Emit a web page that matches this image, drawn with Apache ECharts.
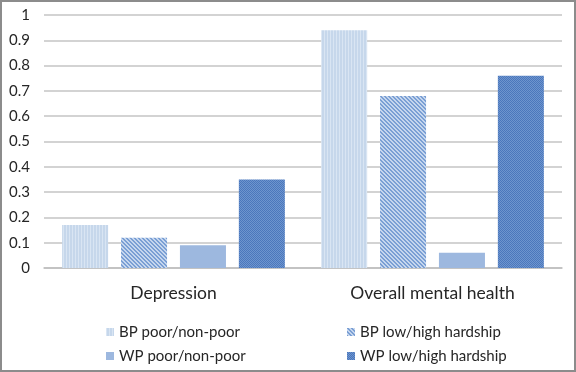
<!DOCTYPE html>
<html>
<head>
<meta charset="utf-8">
<script src="https://cdn.jsdelivr.net/npm/echarts@6/dist/echarts.min.js"></script>
<style>
html,body{margin:0;padding:0;background:#fff;}
#chart{width:576px;height:372px;}
</style>
</head>
<body>
<div id="chart"></div>
<script>
var categories = ['Depression', 'Overall mental health'];
var seriesNames = ['BP poor/non-poor', 'BP low/high hardship', 'WP poor/non-poor', 'WP low/high hardship'];
var bpPoor = [0.17, 0.94];
var bpHardship = [0.12, 0.68];
var wpPoor = [0.09, 0.06];
var wpHardship = [0.35, 0.76];
var yTicks = [0, 0.1, 0.2, 0.3, 0.4, 0.5, 0.6, 0.7, 0.8, 0.9, 1];

function makePattern(w, h, painter) {
  var c = document.createElement('canvas');
  c.width = w; c.height = h;
  var ctx = c.getContext('2d');
  painter(ctx);
  return { image: c, repeat: 'repeat' };
}
var pat1 = makePattern(6, 6, function (ctx) {
  ctx.fillStyle = '#c6d7eb'; ctx.fillRect(0, 0, 6, 6);
  ctx.fillStyle = '#d9e5f3'; ctx.fillRect(0, 0, 1, 6); ctx.fillRect(3, 0, 1, 6);
});
var pat2 = makePattern(4, 4, function (ctx) {
  ctx.fillStyle = '#c5d6ee'; ctx.fillRect(0, 0, 4, 4);
  ctx.fillStyle = '#7a9fd4';
  for (var y = 0; y < 4; y++) for (var x = 0; x < 4; x++) {
    var d = ((x - y) % 4 + 4) % 4;
    if (d === 0 || d === 1) ctx.fillRect(x, y, 1, 1);
  }
});
var pat3 = '#9db8df';
var pat4 = makePattern(2, 2, function (ctx) {
  ctx.fillStyle = '#6e95ce'; ctx.fillRect(0, 0, 2, 2);
  ctx.fillStyle = '#4b77bc'; ctx.fillRect(0, 0, 1, 1); ctx.fillRect(1, 1, 1, 1);
});

var fontFam = 'Lato, "Open Sans", sans-serif';
var chart = echarts.init(document.getElementById('chart'), null, { renderer: 'canvas' });
function mk(name, data, color) {
  return { name: name, type: 'bar', data: data, barGap: '28%', barCategoryGap: '14%',
    itemStyle: { color: color }, emphasis: { disabled: true } };
}
var legendText = { fontSize: 15, color: '#262626', fontFamily: fontFam, lineHeight: 16 };
chart.setOption({
  animation: false,
  textStyle: { fontFamily: fontFam },
  grid: { left: 44, right: 14, top: 15, bottom: 104, containLabel: false },
  legend: [
    { orient: 'vertical', left: 101, top: 319, itemWidth: 8, itemHeight: 8, itemGap: 8,
      icon: 'rect', data: [seriesNames[0], seriesNames[2]], textStyle: legendText, selectedMode: false },
    { orient: 'vertical', left: 342, top: 319, itemWidth: 8, itemHeight: 8, itemGap: 8,
      icon: 'rect', data: [seriesNames[1], seriesNames[3]], textStyle: legendText, selectedMode: false }
  ],
  xAxis: {
    type: 'category', data: categories,
    axisLine: { lineStyle: { color: '#bfbfbf', width: 1.5 } },
    axisTick: { show: false },
    axisLabel: { fontSize: 17.5, color: '#262626', margin: 16, fontFamily: fontFam }
  },
  yAxis: {
    type: 'value', min: yTicks[0], max: yTicks[yTicks.length - 1], interval: 0.1,
    axisLine: { show: false }, axisTick: { show: false },
    splitLine: { lineStyle: { color: '#c4c4c4', width: 1.5 } },
    axisLabel: { fontSize: 15, color: '#262626', margin: 14, fontFamily: fontFam,
      formatter: function (v) { return String(Math.round(v * 10) / 10); } }
  },
  graphic: [{ type: 'rect', shape: { x: 1, y: 1, width: 574, height: 370 },
    style: { fill: 'none', stroke: '#8c8c8c', lineWidth: 2 }, silent: true, z: 100 }],
  series: [
    mk(seriesNames[0], bpPoor, pat1),
    mk(seriesNames[1], bpHardship, pat2),
    mk(seriesNames[2], wpPoor, pat3),
    mk(seriesNames[3], wpHardship, pat4)
  ]
});
</script>
</body>
</html>
